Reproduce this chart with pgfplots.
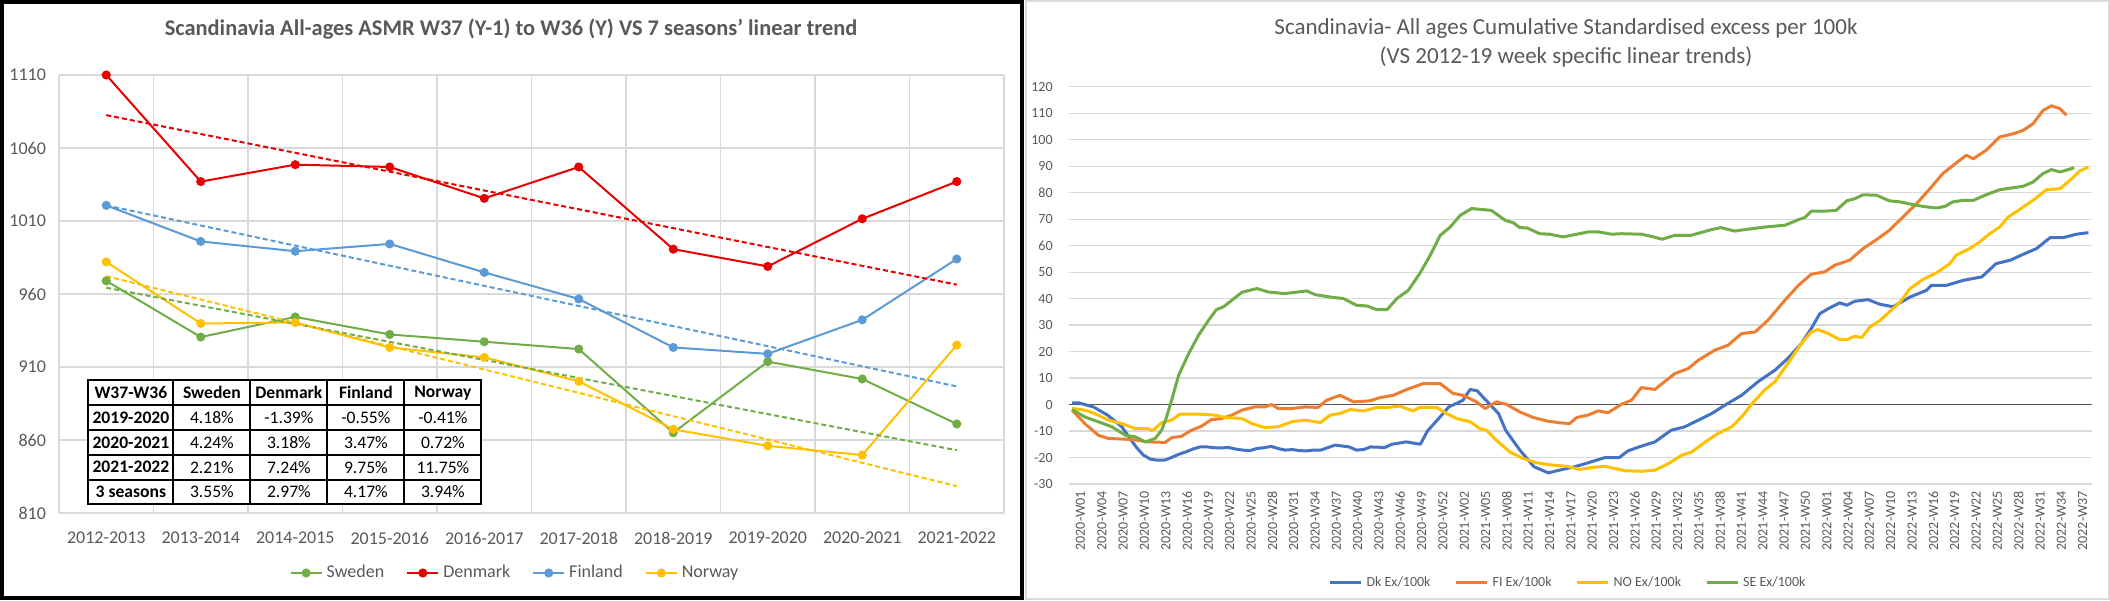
\documentclass[border=0pt]{standalone}
\usepackage{pgfplots}
\pgfplotsset{compat=1.18}
\usepackage{fontspec}
\setmainfont{Carlito}
\usetikzlibrary{matrix}

\definecolor{gridc}{HTML}{D9D9D9}
\definecolor{txtc}{HTML}{595959}
\definecolor{seL}{HTML}{70AD47}
\definecolor{dkL}{HTML}{E80000}
\definecolor{fiL}{HTML}{5B9BD5}
\definecolor{noL}{HTML}{FFC000}
\definecolor{dkR}{HTML}{4472C4}
\definecolor{fiR}{HTML}{ED7D31}

\pgfplotsset{
    excel/.style={
        scale only axis,
        anchor=south west,
        axis line style={draw=none},
        major tick length=0pt,
        minor tick length=0pt,
        grid style={color=gridc, line width=0.6pt},
        ymajorgrids,
        /pgf/number format/assume math mode=true,
        /pgf/number format/1000 sep={},
        legend style={draw=none, fill=none, legend columns=4},
    },
    trend/.style={forget plot, dash pattern=on 2.5pt off 1.5pt, line width=1pt},
    season/.style={line width=1pt, mark=*, mark size=1.75pt, mark options={solid}},
    excess/.style={line width=1.5pt, line join=round},
}

\begin{document}
\begin{tikzpicture}

% ---------------- left chart ----------------
\draw[line width=2pt] (1pt,1pt) rectangle (511pt,299pt);

\begin{axis}[
    excel,
    at={(29.5pt,43.5pt)},
    width=472.5pt, height=219pt,
    clip=false,
    xmin=-0.5, xmax=9.5,
    ymin=810, ymax=1110,
    ytick={810,860,...,1110},
    xtick={0,...,9},
    xticklabels={2012-2013,2013-2014,2014-2015,2015-2016,2016-2017,2017-2018,2018-2019,2019-2020,2020-2021,2021-2022},
    minor xtick={-0.5,0.5,...,9.5},
    xminorgrids,
    minor grid style={color=gridc, line width=0.6pt},
    tick label style={font=\fontsize{9}{10}\selectfont, text=txtc},
    yticklabel style={xshift=-3pt},
    xticklabel style={yshift=-6pt},
    legend style={at={(0.4836,-0.137)}, anchor=center,
        font=\fontsize{9}{10}\selectfont, text=txtc,
        /tikz/every even column/.append style={column sep=9pt}},
    legend image code/.code={\draw[mark repeat=2, mark phase=2, #1] plot coordinates {(0pt,0pt) (7.75pt,0pt) (15.5pt,0pt)};},
]
\addplot[season, seL] coordinates {(0,969) (1,930.5) (2,944.3) (3,932.3) (4,927.3) (5,922.3) (6,865) (7,913.7) (8,901.8) (9,871)};
\addplot[season, dkL] coordinates {(0,1110) (1,1037) (2,1048.6) (3,1047) (4,1025.5) (5,1047) (6,990.7) (7,978.9) (8,1011.5) (9,1037)};
\addplot[season, fiL] coordinates {(0,1020.7) (1,996) (2,989.3) (3,994.3) (4,974.8) (5,956.6) (6,923.4) (7,919) (8,942.3) (9,984)};
\addplot[season, noL] coordinates {(0,982) (1,939.8) (2,940.5) (3,923.4) (4,916.6) (5,900.2) (6,867.3) (7,856) (8,849.7) (9,925)};
\addplot[trend, seL] coordinates {(0,964.3) (9,853.0)};
\addplot[trend, dkL] coordinates {(0,1082.5) (9,966.4)};
\addplot[trend, fiL] coordinates {(0,1020.7) (9,896.7)};
\addplot[trend, noL] coordinates {(0,972.2) (9,828.4)};
\legend{Sweden, Denmark, Finland, Norway}
\end{axis}

\node[font=\fontsize{11.2}{13}\selectfont\bfseries, text=txtc] at (255.5pt,285.5pt)
    {Scandinavia All-ages ASMR W37 (Y-1) to W36 (Y) VS 7 seasons' linear trend};

\matrix[matrix of nodes, anchor=north west, inner sep=0pt, column sep=-1pt, row sep=-1pt,
    nodes={draw=black, line width=1pt, fill=white, minimum height=12.4pt, minimum width=38.5pt,
        inner sep=0pt, anchor=center, font=\fontsize{8.8}{9}\selectfont},
    column 1/.style={nodes={minimum width=42.5pt, font=\fontsize{8.8}{9}\selectfont\bfseries}},
    row 1/.style={nodes={font=\fontsize{8.8}{9}\selectfont\bfseries}}]
    at (43.5pt,110.5pt) {
W37-W36   & Sweden & Denmark & Finland & Norway \\
2019-2020 & 4.18\% & -1.39\% & -0.55\% & -0.41\% \\
2020-2021 & 4.24\% & 3.18\%  & 3.47\%  & 0.72\% \\
2021-2022 & 2.21\% & 7.24\%  & 9.75\%  & 11.75\% \\
3 seasons & 3.55\% & 2.97\%  & 4.17\%  & 3.94\% \\
};

% ---------------- right chart ----------------
\draw[gridc, line width=0.6pt] (513pt,0.5pt) rectangle (1054.5pt,299.5pt);

\begin{axis}[
    excel,
    at={(534.25pt,58pt)},
    width=511.75pt, height=198.65pt,
    xmin=-0.5, xmax=143.5,
    ymin=-30, ymax=120,
    ytick={-30,-20,...,120},
    extra y ticks={0},
    extra y tick labels={},
    extra y tick style={grid style={color=black!65, line width=0.8pt}},
    xtick={0,3,...,141},
    xticklabels={2020-W01,2020-W04,2020-W07,2020-W10,2020-W13,2020-W16,2020-W19,2020-W22,2020-W25,2020-W28,2020-W31,2020-W34,2020-W37,2020-W40,2020-W43,2020-W46,2020-W49,2020-W52,
        2021-W02,2021-W05,2021-W08,2021-W11,2021-W14,2021-W17,2021-W20,2021-W23,2021-W26,2021-W29,2021-W32,2021-W35,2021-W38,2021-W41,2021-W44,2021-W47,2021-W50,
        2022-W01,2022-W04,2022-W07,2022-W10,2022-W13,2022-W16,2022-W19,2022-W22,2022-W25,2022-W28,2022-W31,2022-W34,2022-W37},
    tick label style={font=\fontsize{7}{8}\selectfont, text=txtc},
    yticklabel style={xshift=-4.4pt},
    xticklabel style={rotate=90, anchor=east, yshift=-4.2pt},
    legend style={at={(0.489,-0.249)}, anchor=center,
        font=\fontsize{7}{8}\selectfont, text=txtc,
        /tikz/every even column/.append style={column sep=10pt}},
    legend image code/.code={\draw[#1] (0pt,0pt) -- (15.5pt,0pt);},
]
\addplot[excess, dkR] coordinates {(0,0.6) (1,0.6) (3,-0.9) (5,-4) (7,-8.4) (9,-16) (10,-19) (11,-20.6) (12,-21) (13,-21) (14,-20) (15,-18.8) (16,-17.9) (17,-16.8) (18,-16) (19,-16) (20,-16.3) (21,-16.4) (22,-16.2) (23,-16.8) (24,-17.2) (25,-17.4) (26,-16.6) (27,-16.3) (28,-15.8) (29,-16.6) (30,-17.2) (31,-17) (32,-17.4) (33,-17.5) (34,-17.2) (35,-17.2) (37,-15.3) (39,-16) (40,-17.2) (41,-17) (42,-16) (44,-16.2) (45,-15) (47,-14.1) (49,-15) (50,-10) (52,-4) (53,-0.9) (55,1.6) (56,5.7) (57,5.2) (58,2.3) (60,-3.4) (61,-9.7) (63,-17.2) (65,-23.5) (67,-25.8) (69,-24.5) (70.7,-23.5) (72.6,-22) (75,-20) (77,-20) (78.2,-17.5) (80.1,-15.7) (82,-14.1) (84.3,-9.7) (86.2,-8.4) (88.1,-5.9) (90,-3.4) (91.8,-0.3) (94.2,3.5) (96.5,8.6) (98.9,13) (100.7,17.4) (102.6,23) (104,28.7) (105.2,34.3) (106.4,36.2) (108,38.4) (109,37.5) (110.1,39) (112,39.6) (113.6,37.9) (115.5,36.9) (117.9,40.6) (120.2,43.1) (120.9,45) (123,45) (125.4,46.9) (128,48.2) (130,53.2) (132,54.5) (133.8,56.7) (135.7,58.9) (137.6,63) (139.4,63) (141.3,64.3) (143,64.9)};
\addplot[excess, fiR] coordinates {(0,-2.1) (1.8,-7.2) (3.7,-11.6) (5.1,-12.8) (8.4,-13.2) (10.7,-14.1) (13.1,-14.3) (14,-12.5) (15.4,-12) (16.8,-9.7) (18.2,-8.2) (19.6,-5.7) (21,-5.3) (22.5,-4) (23.9,-2.1) (25.7,-0.9) (27.1,-0.9) (28.1,0) (29,-1.5) (30.9,-1.5) (32.8,-0.9) (34.6,-1.1) (35.8,1.6) (37.7,3.5) (39.6,1) (41.9,1.4) (43.3,2.6) (45.2,3.5) (47.1,5.7) (49.4,7.9) (51.8,7.9) (53.6,4.2) (55,3.5) (56.9,1) (58.1,-1.5) (59.7,1) (61.1,0.1) (63,-2.8) (64.9,-4.9) (66.8,-6.2) (68.6,-6.9) (70,-7.2) (71,-4.9) (72.6,-4) (74,-2.4) (75.4,-3.1) (77.3,0.1) (78.7,1.6) (80.1,6.4) (82,5.7) (84.8,11.7) (86.7,13.6) (88.1,16.7) (90.4,20.5) (92.3,22.4) (94.2,26.8) (96.1,27.4) (97.9,31.8) (100.3,39.4) (102.2,45) (104,49.2) (105.9,50.1) (107.3,52.6) (109.4,54.5) (111.3,58.9) (113.2,62.3) (115,65.8) (116.9,70.8) (118.8,75.8) (120.7,81.5) (122.5,87.2) (124.4,91.2) (125.8,94.1) (126.8,92.8) (128.6,96) (130.5,101) (132.5,102.3) (133.8,103.5) (135.2,106) (136.6,111) (137.8,112.8) (139,111.7) (139.9,109.2)};
\addplot[excess, noL] coordinates {(0,-1.5) (1.8,-2.1) (3.2,-3.4) (5.1,-5.9) (7,-7.2) (8.9,-9.1) (10.7,-9.1) (11.3,-9.9) (12.6,-6.9) (14,-5.9) (15.2,-3.6) (17.8,-3.6) (20.1,-4) (21.5,-4.9) (23.9,-5.3) (25.3,-7.2) (27.1,-8.7) (29,-8.4) (30.9,-6.5) (32.8,-5.9) (34.2,-6.5) (34.9,-6.9) (36.3,-4) (37.7,-3.4) (39.1,-1.9) (41,-2.4) (42.9,-1.1) (44.3,-1.1) (46.1,-0.6) (48,-2.4) (48.9,-1.1) (51.3,-1.1) (52.7,-3.4) (54.1,-5.3) (56,-6.5) (57.4,-9.1) (58.3,-9.7) (59.7,-13.5) (61.6,-17.9) (63.5,-20.4) (65.4,-22) (67.7,-22.9) (69.6,-23.3) (71.4,-24.5) (73.1,-23.8) (75,-23.3) (77.8,-25) (80.1,-25.2) (82,-24.8) (83.9,-22.3) (85.8,-19.1) (87.2,-17.9) (89.1,-14.1) (90.9,-10.9) (92.8,-8.4) (94.2,-4.7) (95.6,0.1) (97.4,5.4) (98.9,8.6) (100.7,15.5) (102.6,23) (104,27.4) (104.9,28.3) (106.4,26.8) (108,24.5) (109,24.5) (110.1,25.8) (111.1,25.3) (112.2,29.1) (113.6,31.6) (115,35) (116.5,38.7) (117.9,43.8) (119.7,47.2) (121.6,49.7) (123.5,53.2) (124.4,56.4) (126.3,58.9) (127.7,61.4) (129.1,64.5) (130.5,67) (131.7,70.8) (133.3,73.6) (135.2,77.1) (137.1,81.1) (139,81.5) (140.4,84.7) (141.8,88.2) (143,89.7)};
\addplot[excess, seL] coordinates {(0,-1.9) (1.8,-4.7) (3.7,-6.5) (5.6,-8.4) (7.5,-11.6) (8.9,-12.2) (10.3,-14.1) (11.7,-12.8) (12.6,-9.7) (13.3,-4.7) (14,1.6) (15,11.1) (16.4,19.2) (17.8,26.2) (19.2,31.8) (20.3,35.8) (21.3,36.9) (22.5,39.4) (23.9,42.4) (26,43.8) (27.6,42.5) (29.9,41.9) (31.8,42.5) (33,42.9) (34.2,41.5) (36.3,40.6) (38.2,40) (40,37.5) (41.5,37.2) (42.9,35.8) (44.3,35.8) (45.7,40) (47.3,43.1) (48.9,49.4) (50.4,56.4) (51.8,63.9) (53.2,67) (54.6,71.4) (56.2,74) (57.8,73.6) (59,73.3) (60.9,69.6) (62.1,68.6) (63,66.8) (64,66.7) (65.8,64.5) (67.2,64.3) (69.1,63.3) (71.4,64.5) (72.6,65.2) (74,65.2) (75.9,64.3) (77.3,64.5) (80.1,64.3) (81.5,63.5) (83,62.4) (84.8,63.9) (87.1,63.9) (89.9,66) (91.3,66.8) (93.2,65.5) (95.1,66.2) (97.4,67) (100.3,67.7) (102.2,69.8) (103.1,70.6) (104,73) (105.9,73) (107.5,73.3) (109,76.9) (110.1,77.7) (111.3,79.2) (113.2,79) (115,76.9) (116.5,76.5) (118.3,75.5) (119.7,74.8) (121.6,74.2) (122.8,74.8) (123.9,76.5) (125.4,77.1) (126.8,77.1) (128.6,79.2) (130.5,81.1) (132.5,81.9) (133.8,82.4) (135.2,84) (136.6,87.2) (137.8,88.7) (139,87.8) (141,89.4)};
\legend{Dk Ex/100k, FI Ex/100k, NO Ex/100k, SE Ex/100k}
\end{axis}

\node[align=center, font=\fontsize{11.5}{14.5}\selectfont, text=txtc] at (783pt,278.75pt)
    {Scandinavia- All ages Cumulative Standardised excess per 100k\\(VS 2012-19 week specific linear trends)};

\pgfresetboundingbox
\path[use as bounding box] (0pt,0pt) rectangle (1055pt,300pt);
\end{tikzpicture}
\end{document}
